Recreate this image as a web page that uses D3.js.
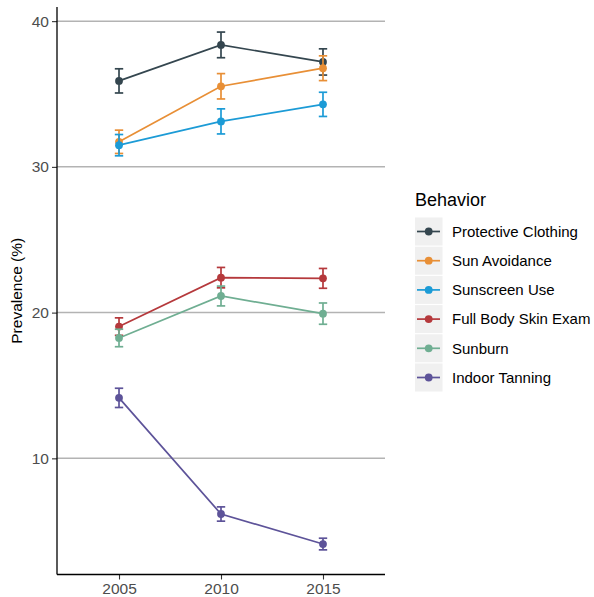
<!DOCTYPE html>
<html><head><meta charset="utf-8">
<script src="https://cdn.jsdelivr.net/npm/d3@7"></script>
<style>body{margin:0;background:#fff;} svg{display:block;font-family:"Liberation Sans",Arial,sans-serif;}</style>
</head><body><svg id="c" width="594" height="597"></svg>
<script>
const years = [2005, 2010, 2015];
const behaviors = ["Protective Clothing","Sun Avoidance","Sunscreen Use","Full Body Skin Exam","Sunburn","Indoor Tanning"];
const colors = ["#34464f","#e88f36","#1c9bd6","#b5393c","#6fae92","#5d5399"];
const protectiveClothing = [35.9, 38.37, 37.2];
const protectiveClothingErr = [0.83, 0.88, 0.9];
const sunAvoidance = [31.72, 35.53, 36.77];
const sunAvoidanceErr = [0.8, 0.87, 0.85];
const sunscreenUse = [31.49, 33.12, 34.29];
const sunscreenUseErr = [0.73, 0.86, 0.83];
const fullBodySkinExam = [19.04, 22.4, 22.35];
const fullBodySkinExamErr = [0.6, 0.7, 0.68];
const sunburn = [18.26, 21.14, 19.93];
const sunburnErr = [0.6, 0.68, 0.73];
const indoorTanning = [14.15, 6.18, 4.12];
const indoorTanningErr = [0.66, 0.49, 0.4];
const yTicks = [10, 20, 30, 40];

const seriesVals = [protectiveClothing, sunAvoidance, sunscreenUse, fullBodySkinExam, sunburn, indoorTanning];
const seriesErr = [protectiveClothingErr, sunAvoidanceErr, sunscreenUseErr, fullBodySkinExamErr, sunburnErr, indoorTanningErr];
const series = behaviors.map((b,i)=>({name:b, color:colors[i], pts: years.map((y,j)=>({x:y, v:seriesVals[i][j], e:seriesErr[i][j]}))}));

const svg = d3.select("#c");
const L = 57, R = 385, T = 7, B = 574.5;
const x = d3.scaleLinear().domain([2001.96, 2018.04]).range([L, R]);
const y = d3.scaleLinear().domain([2.03, 40.97]).range([B, T]);

// gridlines
svg.append("g").selectAll("line").data(yTicks).join("line")
  .attr("x1", L).attr("x2", R).attr("y1", d=>y(d)).attr("y2", d=>y(d))
  .attr("stroke", "#b3b3b3").attr("stroke-width", 1.5);

// axes
const ya = svg.append("g").attr("transform", `translate(${L},0)`)
  .call(d3.axisLeft(y).tickValues(yTicks).tickSize(5).tickPadding(3));
const xa = svg.append("g").attr("transform", `translate(0,${B})`)
  .call(d3.axisBottom(x).tickValues(years).tickFormat(d3.format("d")).tickSize(5).tickPadding(3));
[ya, xa].forEach(a=>{
  a.select(".domain").remove();
  a.selectAll(".tick line").attr("stroke","#333").attr("stroke-width",1.1);
  a.selectAll(".tick text").attr("fill","#4d4d4d").style("font-size","15.5px").style("font-family","Liberation Sans, Arial, sans-serif");
});
svg.append("line").attr("x1",L).attr("x2",L).attr("y1",T).attr("y2",B).attr("stroke","#000").attr("stroke-width",1.3);
svg.append("line").attr("x1",L).attr("x2",R).attr("y1",B).attr("y2",B).attr("stroke","#000").attr("stroke-width",1.3);

svg.append("text").attr("transform", `translate(22,${(T+B)/2}) rotate(-90)`)
  .attr("text-anchor","middle").style("font-size","15.5px").attr("fill","#000").text("Prevalence (%)");

// series
const line = d3.line().x(d=>x(d.x)).y(d=>y(d.v));
const g = svg.append("g");
series.forEach(s=>{
  const sg = g.append("g");
  sg.append("path").datum(s.pts).attr("d", line).attr("fill","none").attr("stroke", s.color).attr("stroke-width",1.7);
  s.pts.forEach(p=>{
    const cx = x(p.x), cw = 4.2;
    sg.append("line").attr("x1",cx).attr("x2",cx).attr("y1",y(p.v-p.e)).attr("y2",y(p.v+p.e)).attr("stroke",s.color).attr("stroke-width",1.7);
    [p.v-p.e, p.v+p.e].forEach(v=>{
      sg.append("line").attr("x1",cx-cw).attr("x2",cx+cw).attr("y1",y(v)).attr("y2",y(v)).attr("stroke",s.color).attr("stroke-width",1.7);
    });
    sg.append("circle").attr("cx",cx).attr("cy",y(p.v)).attr("r",3.9).attr("fill",s.color);
  });
});

// legend
const lg = svg.append("g");
lg.append("text").attr("x",415).attr("y",206).style("font-size","18px").attr("fill","#000").text("Behavior");
behaviors.forEach((b,i)=>{
  const cy = 231.5 + i*29.2;
  lg.append("rect").attr("x",415).attr("y",cy-14).attr("width",27.5).attr("height",28).attr("fill","#f0f0f0");
  lg.append("line").attr("x1",417).attr("x2",440).attr("y1",cy).attr("y2",cy).attr("stroke",colors[i]).attr("stroke-width",1.7);
  lg.append("circle").attr("cx",428.7).attr("cy",cy).attr("r",3.9).attr("fill",colors[i]);
  lg.append("text").attr("x",452).attr("y",cy+5.2).style("font-size","15px").attr("fill","#000").text(b);
});
</script></body></html>
